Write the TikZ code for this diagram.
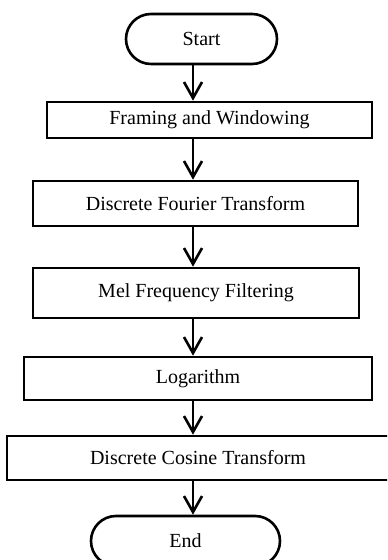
\documentclass[tikz,border=0pt]{standalone}
\usepackage{fontspec}
\setmainfont{Liberation Serif}
\usetikzlibrary{shapes.misc}
\usetikzlibrary{arrows.meta}

\begin{document}
\begin{tikzpicture}[x=0.5pt,y=-0.5pt,line width=1.3pt,>={Straight Barb[length=8pt,width=9pt]},
  box/.style={draw,rectangle,inner sep=0pt,font=\fontsize{10}{12}\selectfont},
  term/.style={draw,rounded rectangle,inner sep=0pt,font=\fontsize{10}{12}\selectfont}]
\clip (0,0) rectangle (387,560);
  \node[term,minimum width=75.5pt,minimum height=25pt] at (201.5,39) (start) {Start};
  \node[box,minimum width=162.5pt,minimum height=18pt] at (209.5,120) (frame) {Framing and Windowing};
  \node[box,minimum width=162.5pt,minimum height=22.5pt] at (195.5,203.5) (dft) {Discrete Fourier Transform};
  \node[box,minimum width=163pt,minimum height=25pt] at (196,293) (mel) {Mel Frequency Filtering};
  \node[box,minimum width=174pt,minimum height=21.5pt] at (198,378.5) (log) {Logarithm};
  \node[box,minimum width=191pt,minimum height=22pt] at (198,458) (dct) {Discrete Cosine Transform};
  \node[term,minimum width=94.5pt,minimum height=25pt] at (185.5,541) (end) {End};
  \coordinate (ax) at (193,0);

  \draw [->] (start.south -| ax) -- (frame.north -| ax);
  \draw [->] (frame.south -| ax) -- (dft.north -| ax);
  \draw [->] (dft.south -| ax) -- (mel.north -| ax);
  \draw [->] (mel.south -| ax) -- (log.north -| ax);
  \draw [->] (log.south -| ax) -- (dct.north -| ax);
  \draw [->] (dct.south -| ax) -- (end.north -| ax);

\end{tikzpicture}
\end{document}
